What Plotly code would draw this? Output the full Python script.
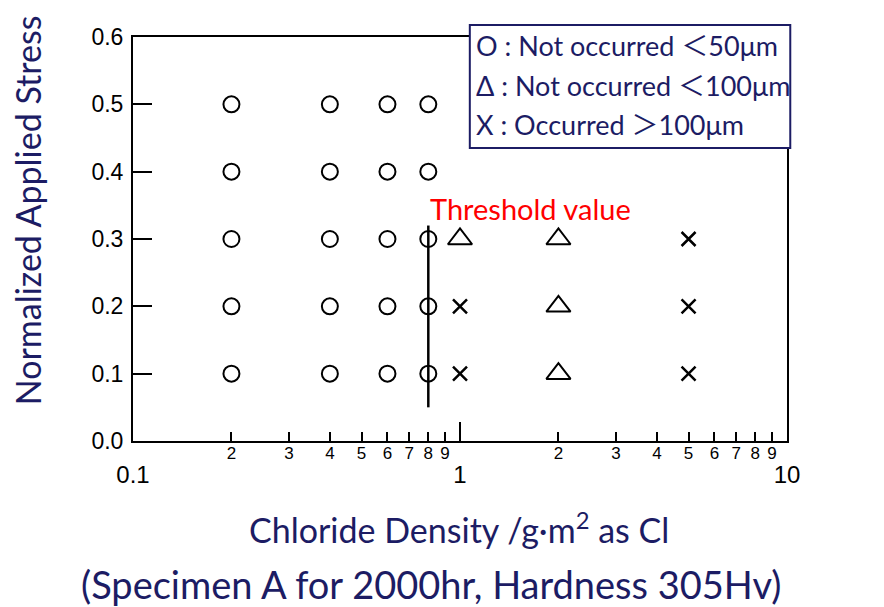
import plotly.graph_objects as go

NAVY = "#1c1c64"
TEXT_FONT = "Lato, Noto Sans CJK JP, sans-serif"
TICK_FONT = "Liberation Sans, Arial, sans-serif"

# data
circle_density = [0.2, 0.2, 0.2, 0.2, 0.2, 0.4, 0.4, 0.4, 0.4, 0.4,
                  0.6, 0.6, 0.6, 0.6, 0.6, 0.8, 0.8, 0.8, 0.8, 0.8]
circle_stress = [0.1, 0.2, 0.3, 0.4, 0.5, 0.1, 0.2, 0.3, 0.4, 0.5,
                 0.1, 0.2, 0.3, 0.4, 0.5, 0.1, 0.2, 0.3, 0.4, 0.5]
triangle_density = [1.0, 2.0, 2.0, 2.0]
triangle_stress = [0.3, 0.1, 0.2, 0.3]
cross_density = [1.0, 1.0, 5.0, 5.0, 5.0]
cross_stress = [0.1, 0.2, 0.1, 0.2, 0.3]
threshold_density = [0.8, 0.8]
threshold_stress = [0.05, 0.32]

major_ticks = [0.1, 1, 10]
major_labels = ["0.1", "1", "10"]
minor_ticks = [0.2, 0.3, 0.4, 0.5, 0.6, 0.7, 0.8, 0.9, 2, 3, 4, 5, 6, 7, 8, 9]
minor_labels = ["2", "3", "4", "5", "6", "7", "8", "9", "2", "3", "4", "5", "6", "7", "8", "9"]
y_ticks = [0.0, 0.1, 0.2, 0.3, 0.4, 0.5, 0.6]

legend_lines = ["O : Not occurred ＜50μm", "Δ : Not occurred ＜100μm", "X : Occurred ＞100μm"]
legend_y = [0.978, 0.88, 0.783]

fig = go.Figure()
fig.add_trace(go.Scatter(x=threshold_density, y=threshold_stress, mode="lines",
                         line=dict(color="black", width=2.5)))
fig.add_trace(go.Scatter(x=circle_density, y=circle_stress, mode="markers",
                         marker=dict(symbol="circle-open", size=16, color="black", line=dict(width=2))))
fig.add_trace(go.Scatter(x=triangle_density, y=triangle_stress, mode="markers",
                         marker=dict(symbol="triangle-up-open", size=21, color="black", line=dict(width=2))))
fig.add_trace(go.Scatter(x=cross_density, y=cross_stress, mode="markers",
                         marker=dict(symbol="x-thin-open", size=14, color="black", line=dict(width=2.5))))
# invisible trace to carry the minor-label axis
fig.add_trace(go.Scatter(x=[0.1, 10], y=[0, 0], xaxis="x2", mode="markers",
                         marker=dict(opacity=0), hoverinfo="skip"))

fig.update_layout(
    width=876, height=599,
    margin=dict(l=125, r=97, t=29, b=166),
    paper_bgcolor="white", plot_bgcolor="white",
    showlegend=False,
    xaxis=dict(type="log", range=[-1, 1], tickvals=major_ticks, ticktext=major_labels,
               ticks="inside", ticklen=19, tickwidth=2, tickcolor="black",
               ticklabelstandoff=11,
               tickfont=dict(family=TICK_FONT, size=24, color="black"),
               showline=True, linecolor="black", linewidth=2, mirror=True,
               showgrid=False, zeroline=False),
    xaxis2=dict(type="log", range=[-1, 1], overlaying="x", anchor="y", side="bottom",
                tickvals=minor_ticks, ticktext=minor_labels,
                ticks="inside", ticklen=9, tickwidth=2, tickcolor="black",
                tickfont=dict(family=TICK_FONT, size=17, color="black"),
                showline=False, showgrid=False, zeroline=False),
    yaxis=dict(range=[0, 0.6], tickvals=y_ticks, tickformat=".1f",
               ticks="inside", ticklen=19, tickwidth=2, tickcolor="black",
               ticklabelstandoff=3,
               tickfont=dict(family=TICK_FONT, size=23, color="black"),
               showline=True, linecolor="black", linewidth=2, mirror=True,
               showgrid=False, zeroline=False),
)

# legend box
fig.add_shape(type="rect", xref="paper", yref="paper", x0=0.515, x1=1.005, y0=0.725, y1=1.03,
              line=dict(color=NAVY, width=2), fillcolor="white", layer="above")
for line_text, line_y in zip(legend_lines, legend_y):
    fig.add_annotation(xref="paper", yref="paper", x=0.521, y=line_y, xanchor="left", yanchor="middle",
                       text=line_text, showarrow=False,
                       font=dict(family=TEXT_FONT, size=27, color=NAVY))

fig.add_annotation(x=-0.097, y=0.346, xref="x", yref="y", xanchor="left", yanchor="middle",
                   text="Threshold value", showarrow=False,
                   font=dict(family=TEXT_FONT, size=29, color="red"))

fig.add_annotation(xref="paper", yref="paper", x=-0.16, y=0.572, xanchor="center", textangle=-90,
                   text="Normalized Applied Stress", showarrow=False,
                   font=dict(family=TEXT_FONT, size=34, color=NAVY))
fig.add_annotation(xref="paper", yref="paper", x=0.498, y=-0.215, yanchor="middle",
                   text="Chloride Density /g·m<sup>2</sup> as Cl", showarrow=False,
                   font=dict(family=TEXT_FONT, size=34, color=NAVY))
fig.add_annotation(xref="paper", yref="paper", x=0.456, y=-0.353, yanchor="middle",
                   text="(Specimen A for 2000hr, Hardness 305Hv)", showarrow=False,
                   font=dict(family=TEXT_FONT, size=38, color=NAVY))

fig.write_html("out.html")
